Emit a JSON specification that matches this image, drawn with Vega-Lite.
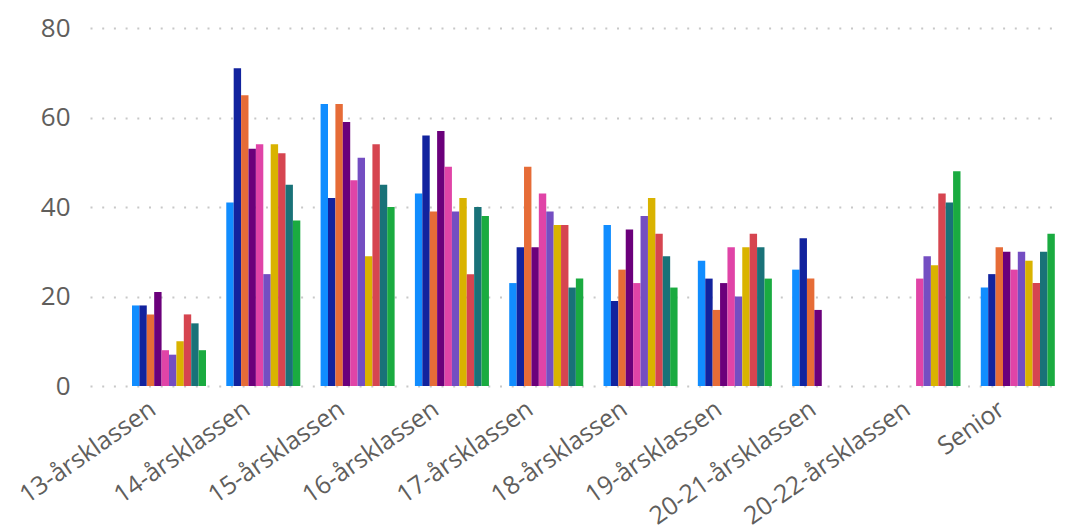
{
  "$schema": "https://vega.github.io/schema/vega-lite/v6.json",
  "autosize": {"type": "none"},
  "padding": {"left": 90, "top": 28, "right": 5, "bottom": 145},
  "width": 970,
  "height": 358,
  "background": "white",
  "config": {
    "view": {"stroke": null},
    "font": "Open Sans"
  },
  "data": {
    "values": [
      {"klass": "13-årsklassen", "serie": "S01", "antal": 18},
      {"klass": "13-årsklassen", "serie": "S02", "antal": 18},
      {"klass": "13-årsklassen", "serie": "S03", "antal": 16},
      {"klass": "13-årsklassen", "serie": "S04", "antal": 21},
      {"klass": "13-årsklassen", "serie": "S05", "antal": 8},
      {"klass": "13-årsklassen", "serie": "S06", "antal": 7},
      {"klass": "13-årsklassen", "serie": "S07", "antal": 10},
      {"klass": "13-årsklassen", "serie": "S08", "antal": 16},
      {"klass": "13-årsklassen", "serie": "S09", "antal": 14},
      {"klass": "13-årsklassen", "serie": "S10", "antal": 8},

      {"klass": "14-årsklassen", "serie": "S01", "antal": 41},
      {"klass": "14-årsklassen", "serie": "S02", "antal": 71},
      {"klass": "14-årsklassen", "serie": "S03", "antal": 65},
      {"klass": "14-årsklassen", "serie": "S04", "antal": 53},
      {"klass": "14-årsklassen", "serie": "S05", "antal": 54},
      {"klass": "14-årsklassen", "serie": "S06", "antal": 25},
      {"klass": "14-årsklassen", "serie": "S07", "antal": 54},
      {"klass": "14-årsklassen", "serie": "S08", "antal": 52},
      {"klass": "14-årsklassen", "serie": "S09", "antal": 45},
      {"klass": "14-årsklassen", "serie": "S10", "antal": 37},

      {"klass": "15-årsklassen", "serie": "S01", "antal": 63},
      {"klass": "15-årsklassen", "serie": "S02", "antal": 42},
      {"klass": "15-årsklassen", "serie": "S03", "antal": 63},
      {"klass": "15-årsklassen", "serie": "S04", "antal": 59},
      {"klass": "15-årsklassen", "serie": "S05", "antal": 46},
      {"klass": "15-årsklassen", "serie": "S06", "antal": 51},
      {"klass": "15-årsklassen", "serie": "S07", "antal": 29},
      {"klass": "15-årsklassen", "serie": "S08", "antal": 54},
      {"klass": "15-årsklassen", "serie": "S09", "antal": 45},
      {"klass": "15-årsklassen", "serie": "S10", "antal": 40},

      {"klass": "16-årsklassen", "serie": "S01", "antal": 43},
      {"klass": "16-årsklassen", "serie": "S02", "antal": 56},
      {"klass": "16-årsklassen", "serie": "S03", "antal": 39},
      {"klass": "16-årsklassen", "serie": "S04", "antal": 57},
      {"klass": "16-årsklassen", "serie": "S05", "antal": 49},
      {"klass": "16-årsklassen", "serie": "S06", "antal": 39},
      {"klass": "16-årsklassen", "serie": "S07", "antal": 42},
      {"klass": "16-årsklassen", "serie": "S08", "antal": 25},
      {"klass": "16-årsklassen", "serie": "S09", "antal": 40},
      {"klass": "16-årsklassen", "serie": "S10", "antal": 38},

      {"klass": "17-årsklassen", "serie": "S01", "antal": 23},
      {"klass": "17-årsklassen", "serie": "S02", "antal": 31},
      {"klass": "17-årsklassen", "serie": "S03", "antal": 49},
      {"klass": "17-årsklassen", "serie": "S04", "antal": 31},
      {"klass": "17-årsklassen", "serie": "S05", "antal": 43},
      {"klass": "17-årsklassen", "serie": "S06", "antal": 39},
      {"klass": "17-årsklassen", "serie": "S07", "antal": 36},
      {"klass": "17-årsklassen", "serie": "S08", "antal": 36},
      {"klass": "17-årsklassen", "serie": "S09", "antal": 22},
      {"klass": "17-årsklassen", "serie": "S10", "antal": 24},

      {"klass": "18-årsklassen", "serie": "S01", "antal": 36},
      {"klass": "18-årsklassen", "serie": "S02", "antal": 19},
      {"klass": "18-årsklassen", "serie": "S03", "antal": 26},
      {"klass": "18-årsklassen", "serie": "S04", "antal": 35},
      {"klass": "18-årsklassen", "serie": "S05", "antal": 23},
      {"klass": "18-årsklassen", "serie": "S06", "antal": 38},
      {"klass": "18-årsklassen", "serie": "S07", "antal": 42},
      {"klass": "18-årsklassen", "serie": "S08", "antal": 34},
      {"klass": "18-årsklassen", "serie": "S09", "antal": 29},
      {"klass": "18-årsklassen", "serie": "S10", "antal": 22},

      {"klass": "19-årsklassen", "serie": "S01", "antal": 28},
      {"klass": "19-årsklassen", "serie": "S02", "antal": 24},
      {"klass": "19-årsklassen", "serie": "S03", "antal": 17},
      {"klass": "19-årsklassen", "serie": "S04", "antal": 23},
      {"klass": "19-årsklassen", "serie": "S05", "antal": 31},
      {"klass": "19-årsklassen", "serie": "S06", "antal": 20},
      {"klass": "19-årsklassen", "serie": "S07", "antal": 31},
      {"klass": "19-årsklassen", "serie": "S08", "antal": 34},
      {"klass": "19-årsklassen", "serie": "S09", "antal": 31},
      {"klass": "19-årsklassen", "serie": "S10", "antal": 24},

      {"klass": "20-21-årsklassen", "serie": "S01", "antal": 26},
      {"klass": "20-21-årsklassen", "serie": "S02", "antal": 33},
      {"klass": "20-21-årsklassen", "serie": "S03", "antal": 24},
      {"klass": "20-21-årsklassen", "serie": "S04", "antal": 17},

      {"klass": "20-22-årsklassen", "serie": "S05", "antal": 24},
      {"klass": "20-22-årsklassen", "serie": "S06", "antal": 29},
      {"klass": "20-22-årsklassen", "serie": "S07", "antal": 27},
      {"klass": "20-22-årsklassen", "serie": "S08", "antal": 43},
      {"klass": "20-22-årsklassen", "serie": "S09", "antal": 41},
      {"klass": "20-22-årsklassen", "serie": "S10", "antal": 48},

      {"klass": "Senior", "serie": "S01", "antal": 22},
      {"klass": "Senior", "serie": "S02", "antal": 25},
      {"klass": "Senior", "serie": "S03", "antal": 31},
      {"klass": "Senior", "serie": "S04", "antal": 30},
      {"klass": "Senior", "serie": "S05", "antal": 26},
      {"klass": "Senior", "serie": "S06", "antal": 30},
      {"klass": "Senior", "serie": "S07", "antal": 28},
      {"klass": "Senior", "serie": "S08", "antal": 23},
      {"klass": "Senior", "serie": "S09", "antal": 30},
      {"klass": "Senior", "serie": "S10", "antal": 34}
    ]
  },
  "mark": {"type": "bar"},
  "encoding": {
    "x": {
      "field": "klass",
      "type": "nominal",
      "sort": null,
      "title": null,
      "scale": {"paddingInner": 0.215, "paddingOuter": 0.25, "align": 0.89},
      "axis": {
        "labelAngle": -35,
        "labelAlign": "right",
        "labelBaseline": "middle",
        "labelFontSize": 25,
        "labelColor": "#605E5C",
        "labelPadding": 20,
        "labelOffset": -16,
        "labelLimit": 500,
        "labelOverlap": false,
        "labelBound": false,
        "ticks": false,
        "domain": false,
        "grid": false
      }
    },
    "xOffset": {
      "field": "serie",
      "type": "nominal",
      "scale": {"paddingInner": 0, "paddingOuter": 0}
    },
    "y": {
      "field": "antal",
      "type": "quantitative",
      "title": null,
      "scale": {"domain": [0, 80], "nice": false},
      "axis": {
        "values": [0, 20, 40, 60, 80],
        "labelFontSize": 26,
        "labelColor": "#605E5C",
        "labelPadding": 20,
        "ticks": false,
        "domain": false,
        "grid": true,
        "gridColor": "#C8C8C8",
        "gridWidth": 2,
        "gridDash": [2, 9.7]
      }
    },
    "color": {
      "field": "serie",
      "type": "nominal",
      "legend": null,
      "scale": {
        "domain": ["S01", "S02", "S03", "S04", "S05", "S06", "S07", "S08", "S09", "S10"],
        "range": ["#118DFF", "#12239E", "#E66C37", "#6B007B", "#E044A7", "#744EC2", "#D9B300", "#D64550", "#197278", "#1AAB40"]
      }
    }
  }
}
